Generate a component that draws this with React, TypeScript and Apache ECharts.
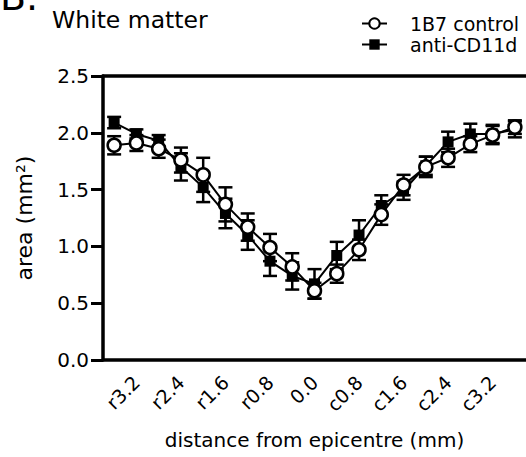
import React, { useEffect, useRef } from "react";
import * as echarts from "echarts";

const categories = ["r3.6", "r3.2", "r2.8", "r2.4", "r2.0", "r1.6", "r1.2", "r0.8", "r0.4", "0.0", "c0.4", "c0.8", "c1.2", "c1.6", "c2.0", "c2.4", "c2.8", "c3.2", "c3.6"];

const controlMean = [1.89, 1.91, 1.86, 1.76, 1.63, 1.37, 1.17, 0.99, 0.82, 0.61, 0.76, 0.97, 1.28, 1.54, 1.70, 1.78, 1.90, 1.98, 2.05];
const controlSem = [0.08, 0.07, 0.08, 0.11, 0.15, 0.15, 0.12, 0.12, 0.12, 0.07, 0.08, 0.09, 0.09, 0.09, 0.09, 0.08, 0.07, 0.08, 0.06];

const antiMean = [2.09, 1.99, 1.93, 1.70, 1.52, 1.29, 1.10, 0.87, 0.74, 0.67, 0.92, 1.10, 1.36, 1.49, 1.71, 1.92, 1.99, 1.99, 2.03];
const antiSem = [0.05, 0.04, 0.05, 0.12, 0.13, 0.13, 0.13, 0.13, 0.12, 0.13, 0.12, 0.13, 0.09, 0.08, 0.08, 0.09, 0.09, 0.08, 0.07];

const seriesNames = ["1B7 control", "anti-CD11d"];
const yTicks = [0, 0.5, 1.0, 1.5, 2.0, 2.5];

const FONT = "DejaVu Sans";

function errData(mean: number[], sem: number[]) {
  return mean.map((m, i) => [i, m - sem[i], m + sem[i]]);
}

function errSeries(mean: number[], sem: number[], z: number) {
  return {
    type: "custom",
    z,
    silent: true,
    renderItem: (params: any, api: any) => {
      const x = api.value(0);
      const lo = api.coord([x, api.value(1)]);
      const hi = api.coord([x, api.value(2)]);
      const half = 7;
      const st = { stroke: "#000", lineWidth: 2.5 };
      return {
        type: "group",
        children: [
          { type: "line", shape: { x1: lo[0], y1: lo[1], x2: hi[0], y2: hi[1] }, style: st },
          { type: "line", shape: { x1: lo[0] - half, y1: lo[1], x2: lo[0] + half, y2: lo[1] }, style: st },
          { type: "line", shape: { x1: hi[0] - half, y1: hi[1], x2: hi[0] + half, y2: hi[1] }, style: st },
        ],
      };
    },
    data: errData(mean, sem),
  };
}

export default function App() {
  const ref = useRef<HTMLDivElement>(null);
  useEffect(() => {
    if (!ref.current) return;
    const chart = echarts.init(ref.current, undefined, { renderer: "svg" });
    const oddOnly = (i: number) => i % 2 === 1;
    chart.setOption({
      animation: false,
      backgroundColor: "#fff",
      textStyle: { fontFamily: FONT },
      graphic: [
        { type: "text", left: 0, top: -22, style: { text: "B.", fontFamily: FONT, fontSize: 38, fill: "#000" } },
        { type: "text", left: 52, top: 8, style: { text: "White matter", fontFamily: FONT, fontSize: 23.5, fill: "#000" } },
      ],
      legend: {
        orient: "vertical",
        left: 356,
        top: 9,
        itemWidth: 25,
        itemHeight: 13,
        itemGap: 2,
        data: seriesNames,
        textStyle: { fontFamily: FONT, fontSize: 19, lineHeight: 19, color: "#000", padding: [0, 0, 0, 18] },
      },
      grid: { left: 103, top: 76, height: 284, width: 424 },
      xAxis: [
        {
          type: "category",
          data: categories,
          boundaryGap: true,
          axisLine: { lineStyle: { color: "#000", width: 3.5 } },
          axisTick: { alignWithLabel: true, interval: oddOnly, length: 10, lineStyle: { color: "#000", width: 3.5 } },
          axisLabel: { interval: oddOnly, rotate: 45, margin: 19, fontFamily: FONT, fontSize: 19, color: "#000" },
          name: "distance from epicentre (mm)",
          nameLocation: "middle",
          nameGap: 70,
          nameTextStyle: { fontFamily: FONT, fontSize: 20, color: "#000" },
        },
        {
          type: "category",
          data: categories,
          position: "top",
          axisLine: { lineStyle: { color: "#000", width: 3.5 } },
          axisTick: { show: false },
          axisLabel: { show: false },
        },
      ],
      yAxis: {
        type: "value",
        min: 0,
        max: 2.5,
        interval: 0.5,
        splitLine: { show: false },
        axisLine: { show: true, lineStyle: { color: "#000", width: 3.5 } },
        axisTick: { show: true, length: 12, lineStyle: { color: "#000", width: 3 } },
        axisLabel: {
          margin: 14,
          fontFamily: FONT,
          fontSize: 20,
          color: "#000",
          formatter: (v: number) => (yTicks.includes(v) ? v.toFixed(1) : ""),
        },
        name: "area (mm²)",
        nameLocation: "middle",
        nameGap: 68,
        nameTextStyle: { fontFamily: FONT, fontSize: 22, color: "#000" },
      },
      series: [
        errSeries(antiMean, antiSem, 2),
        {
          name: seriesNames[1],
          type: "line",
          z: 3,
          data: antiMean,
          symbol: "rect",
          symbolSize: 11,
          lineStyle: { color: "#000", width: 2 },
          itemStyle: { color: "#000" },
        },
        errSeries(controlMean, controlSem, 4),
        {
          name: seriesNames[0],
          type: "line",
          z: 5,
          data: controlMean,
          symbol: "circle",
          symbolSize: 13,
          lineStyle: { color: "#000", width: 2 },
          itemStyle: { color: "#fff", borderColor: "#000", borderWidth: 2.5 },
        },
      ],
    });
    return () => chart.dispose();
  }, []);
  return <div ref={ref} style={{ width: 526, height: 457, position: "absolute", left: 0, top: 0 }} />;
}
